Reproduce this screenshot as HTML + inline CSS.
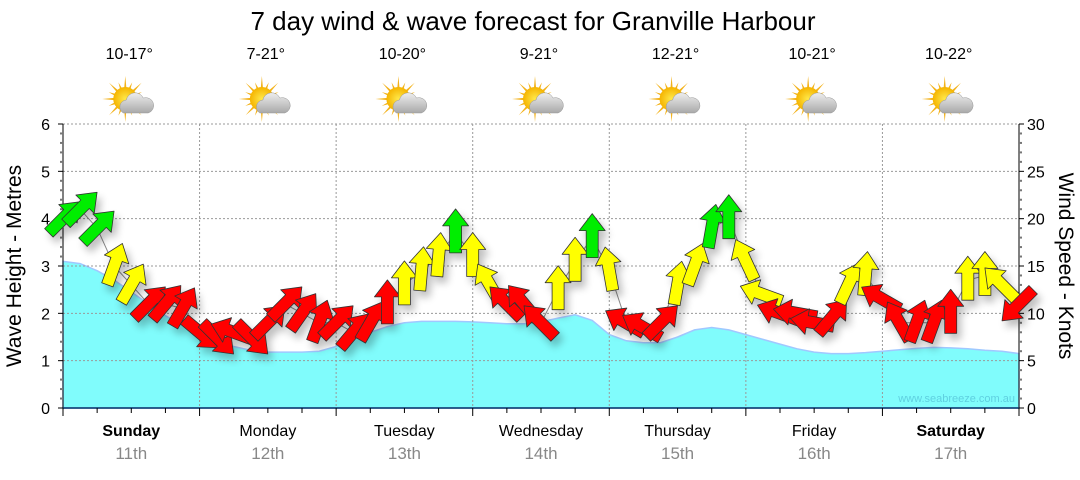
<!DOCTYPE html>
<html><head><meta charset="utf-8"><style>
body{margin:0;background:#fff;}
svg text{font-family:"Liberation Sans",sans-serif;}
</style></head><body>
<svg id="chart" width="1080" height="475" viewBox="0 0 1080 475" xmlns="http://www.w3.org/2000/svg">
<defs>
<filter id="sh" x="-50%" y="-50%" width="200%" height="200%"><feGaussianBlur in="SourceAlpha" stdDeviation="4"/><feOffset dx="4" dy="6"/><feComponentTransfer><feFuncA type="linear" slope="0.25"/></feComponentTransfer><feMerge><feMergeNode/><feMergeNode in="SourceGraphic"/></feMerge></filter>
<radialGradient id="sun" cx="0.5" cy="0.5" r="0.5"><stop offset="0" stop-color="#ffe94a"/><stop offset="1" stop-color="#f5b400"/></radialGradient>
<linearGradient id="cloud" x1="0" y1="0" x2="0" y2="1"><stop offset="0" stop-color="#eeeeee"/><stop offset="1" stop-color="#a9a9a9"/></linearGradient>
</defs>
<text x="533" y="30" font-size="26" text-anchor="middle" fill="#000">7 day wind &amp; wave forecast for Granville Harbour</text>
<g id="topg"></g>
<g id="plot"></g>
<text transform="translate(21,266) rotate(-90)" font-size="21" text-anchor="middle">Wave Height - Metres</text>
<text transform="translate(1059,266) rotate(90)" font-size="21" text-anchor="middle">Wind Speed - Knots</text>
</svg>
<script>
const days=["Sunday","Monday","Tuesday","Wednesday","Thursday","Friday","Saturday"];
const dates=["11th","12th","13th","14th","15th","16th","17th"];
const temps=["10-17°","7-21°","10-20°","9-21°","12-21°","10-21°","10-22°"];
const waveTicks=[0,1,2,3,4,5,6];
const windTicks=[0,5,10,15,20,25,30];
const waves=[3.1,3.05,2.9,2.7,2.45,2.2,1.95,1.75,1.55,1.4,1.3,1.22,1.18,1.18,1.18,1.2,1.3,1.45,1.6,1.72,1.8,1.83,1.83,1.83,1.82,1.8,1.78,1.78,1.82,1.9,1.97,1.85,1.55,1.42,1.38,1.38,1.5,1.65,1.7,1.65,1.55,1.45,1.35,1.25,1.18,1.15,1.15,1.17,1.2,1.23,1.26,1.28,1.27,1.25,1.22,1.2,1.15];
const windSpeed=[20,21,19,15,13,11,11,10.5,8,7.5,8,7.5,9,11,10,9,9,8,9,11,13,14.5,16,18.5,16,13,11,11,9,12.5,15.5,18,14.5,9,8.5,9,13,15,19,20,15.5,12,10,10,9,9.5,13,14,11.5,9,9,9,10,13.5,14,13,11];
const windDir=[45,45,45,20,30,45,40,30,130,135,-70,135,45,45,35,20,45,40,30,0,0,5,5,0,0,-30,-45,-40,-45,0,0,0,-10,-60,-60,45,10,20,10,0,-25,-70,-70,-80,-80,40,25,5,-60,-30,20,20,0,0,0,-45,225];

const NS="http://www.w3.org/2000/svg";
const X0=63,X1=1019,Y0=408,Y6=124,N=waves.length-1;
const xOf=i=>X0+(X1-X0)*i/N;
const yWave=v=>Y0-(Y0-Y6)*v/6;
const yWind=v=>Y0-(Y0-Y6)*v/30;
const dayW=(X1-X0)/7;
function mk(tag,attrs,parent){const e=document.createElementNS(NS,tag);for(const k in attrs)e.setAttribute(k,attrs[k]);parent.appendChild(e);return e;}
const plot=document.getElementById('plot'),topG=document.getElementById('topg');

let d="M"+X0+","+Y0;
waves.forEach((v,i)=>{d+=" L"+xOf(i).toFixed(1)+","+yWave(v).toFixed(1);});
d+=" L"+X1+","+Y0+" Z";
const area=mk('path',{d:d,fill:'#80fcfc',stroke:'#a0c8ff','stroke-width':1.5},plot);



waveTicks.forEach(t=>{if(t===0)return;const g=mk('line',{x1:X0,x2:X1,y1:yWave(t),y2:yWave(t),stroke:'#999','stroke-dasharray':'2,2','stroke-width':1},plot);

});
for(let k=1;k<7;k++){const x=X0+dayW*k;const g=mk('line',{x1:x,x2:x,y1:Y6,y2:Y0,stroke:'#999','stroke-dasharray':'2,2','stroke-width':1},plot);

}

const wm=mk('text',{x:1015,y:402,'font-size':11,'text-anchor':'end',fill:'#5fd0e0'},plot);wm.textContent="www.seabreeze.com.au";



mk('line',{x1:X0,x2:X0,y1:Y6,y2:Y0,stroke:'#000'},plot);
mk('line',{x1:X1,x2:X1,y1:Y6,y2:Y0,stroke:'#000'},plot);
mk('line',{x1:X0,x2:X1,y1:Y0,y2:Y0,stroke:'#036','stroke-width':1.5},plot);
for(let m=0;m<=30;m++){const y=Y0-(Y0-Y6)*m/30;const maj=m%5===0;
 mk('line',{x1:X0-(maj?5:3),x2:X0,y1:y,y2:y,stroke:maj?'#000':'#777','stroke-width':maj?1:2},plot);
 mk('line',{x1:X1,x2:X1+(maj?5:3),y1:y,y2:y,stroke:maj?'#000':'#777','stroke-width':maj?1:2},plot);}
waveTicks.forEach(t=>{const e=mk('text',{x:50,y:yWave(t)+6,'font-size':16,'text-anchor':'end'},plot);e.textContent=t;

});
windTicks.forEach(t=>{const e=mk('text',{x:1027,y:yWind(t)+6,'font-size':16},plot);e.textContent=t;

});
for(let q=0;q<=28;q++){const x=X0+dayW*q/4;const maj=q%4===0;mk('line',{x1:x,x2:x,y1:Y0,y2:Y0+(maj?8:5),stroke:'#000','stroke-width':1},plot);}

days.forEach((dn,k)=>{const cx=X0+dayW*(k+0.5);const bold=(k===0||k===6);
 const a=mk('text',{x:cx,y:436,'font-size':16,'text-anchor':'middle','font-weight':bold?'bold':'normal'},plot);a.textContent=dn;
 
 
 const b=mk('text',{x:cx,y:459,'font-size':17,'text-anchor':'middle',fill:'#888'},plot);b.textContent=dates[k];
 
 
 const t=mk('text',{x:cx-2,y:59,'font-size':16,'text-anchor':'middle'},topG);t.textContent=temps[k];
 
 
 const g=mk('g',{transform:`translate(${cx-6},99)`},topG);
 
 
 for(let r=0;r<16;r++){const ang=r*22.5*Math.PI/180;const L=r%2?18:23;mk('polygon',{points:`${Math.cos(ang-0.12)*10},${Math.sin(ang-0.12)*10} ${Math.cos(ang)*L},${Math.sin(ang)*L} ${Math.cos(ang+0.12)*10},${Math.sin(ang+0.12)*10}`,fill:'#f3b21a'},g);}
 mk('circle',{cx:0,cy:0,r:12,fill:'url(#sun)'},g);
 mk('path',{d:'M-2,14 a7,7 0 0 1 3,-13 a9,9 0 0 1 17,-2 a7,7 0 0 1 5,15 z',fill:'url(#cloud)',stroke:'#999','stroke-width':0.5},g);
});

let wl="";windSpeed.forEach((v,i)=>{wl+=(i?" L":"M")+xOf(i).toFixed(1)+","+yWind(v).toFixed(1);});
const line=mk('path',{d:wl,fill:'none',stroke:'#888','stroke-width':1},plot);



const ag=mk('g',{filter:'url(#sh)'},plot);
windSpeed.forEach((v,i)=>{const c=v>=18?'#00ee00':(v>=12?'#ffff00':'#ff0000');
 const p=mk('polygon',{points:'0,-24 13,-7 6,-7 6,20 -6,20 -6,-7 -13,-7',fill:c,stroke:'#333','stroke-width':0.8,'stroke-linejoin':'round',
  transform:`translate(${xOf(i).toFixed(1)},${yWind(v).toFixed(1)}) rotate(${windDir[i]})`},ag);
 
 
});
</script>
</body></html>
